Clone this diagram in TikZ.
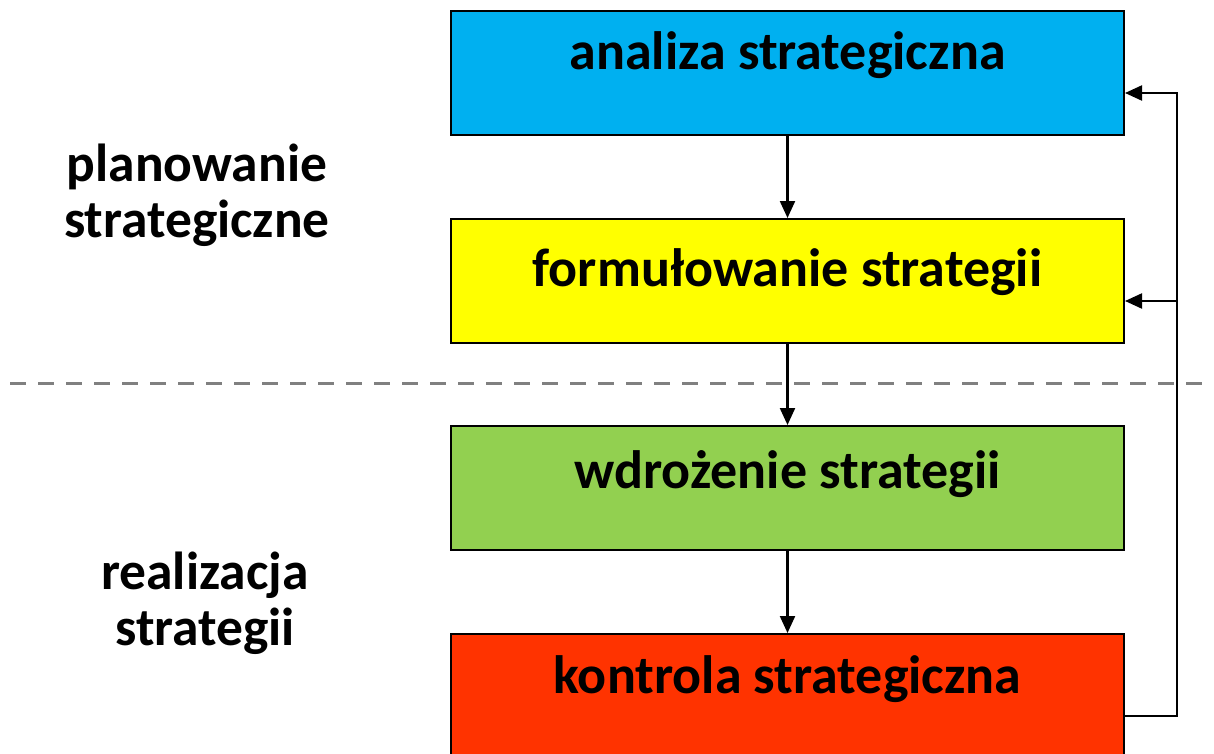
\documentclass[tikz,border=0pt]{standalone}
\usepackage{fontspec}
\setmainfont{Carlito}
\usetikzlibrary{arrows.meta}
\definecolor{bcyan}{HTML}{00B0F0}
\definecolor{byellow}{HTML}{FFFF00}
\definecolor{bgreen}{HTML}{92D050}
\definecolor{bred}{HTML}{FF3300}
\definecolor{dgray}{HTML}{808080}
\tikzset{
  stagebox/.style={draw=black, line width=2pt, anchor=north west, inner sep=0pt,
    minimum width=673pt, minimum height=124pt,
    font=\fontsize{54}{60}\selectfont\bfseries},
  sidelabel/.style={align=center, inner sep=0pt, font=\fontsize{53.5}{56}\selectfont\bfseries},
  conn/.style={line width=2.2pt, -{Triangle[length=17pt,width=15pt]}},
  sep/.style={dgray, line width=3pt, dash pattern=on 16pt off 12pt}
}
\begin{document}
\begin{tikzpicture}[x=1pt,y=-1pt]
\useasboundingbox (0,0) rectangle (1214,754);
\clip (0,0) rectangle (1214,754);
\node[stagebox, fill=bcyan, text height=59pt, text depth=65pt] (a) at (450,10) {analiza strategiczna};
\node[stagebox, fill=byellow, text height=67pt, text depth=57pt] (f) at (450,218) {formułowanie strategii};
\node[stagebox, fill=bgreen, text height=62pt, text depth=62pt] (w) at (450,425) {wdrożenie strategii};
\node[stagebox, fill=bred, text height=59pt, text depth=65pt] (k) at (450,633) {kontrola strategiczna};
\coordinate (sepL) at (10,383);
\coordinate (sepR) at (1214,383);
\draw[sep] (sepL) -- (sepR);
\node[sidelabel] (plan) at (197,195) {planowanie\\strategiczne};
\node[sidelabel] (real) at (205,603) {realizacja\\strategii};
\draw[conn] (a.south) -- (f.north);
\draw[conn] (f.south) -- (w.north);
\draw[conn] (w.south) -- (k.north);
\draw[conn] ([yshift=-20pt]k.east) -| ([xshift=52pt,yshift=-20pt]a.east) -- ([yshift=-20pt]a.east);
\draw[conn] ([xshift=52pt,yshift=-20pt]f.east) -- ([yshift=-20pt]f.east);
\end{tikzpicture}
\end{document}
